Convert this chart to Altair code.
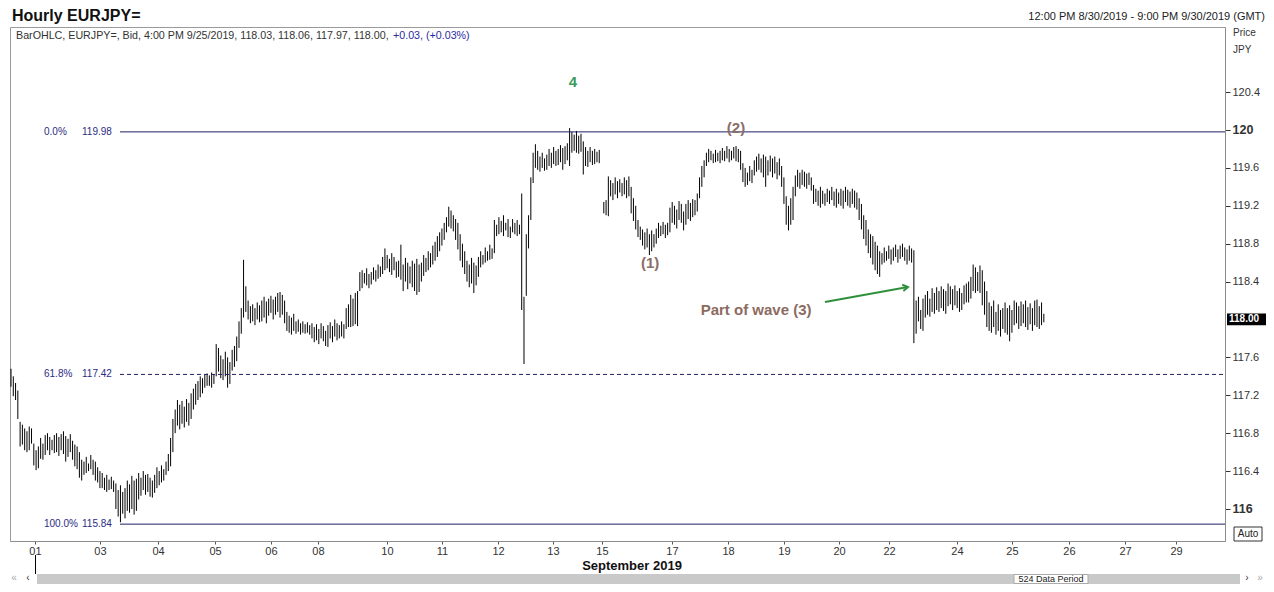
import json
import altair as alt
import pandas as pd

FONT = "Liberation Sans"

# ---------------- hourly OHLC bars (high / low per bar) ----------------
high_1 = [117.48, 117.40, 117.33, 117.25, 116.92, 116.89, 116.85, 116.82, 116.87, 116.85,
          116.69, 116.62, 116.66, 116.75, 116.69, 116.78, 116.80, 116.76, 116.73, 116.78,
          116.80, 116.76, 116.79, 116.82, 116.77, 116.74, 116.79, 116.72, 116.68, 116.66,
          116.60, 116.52, 116.50, 116.55, 116.48, 116.57, 116.52, 116.50, 116.44, 116.40,
          116.38, 116.33, 116.36, 116.31, 116.34, 116.30, 116.27, 116.20, 116.25, 116.18]
low_1 = [117.29, 117.19, 117.15, 116.95, 116.66, 116.68, 116.62, 116.60, 116.62, 116.69,
         116.46, 116.41, 116.43, 116.53, 116.52, 116.57, 116.62, 116.57, 116.62, 116.59,
         116.60, 116.56, 116.62, 116.58, 116.50, 116.55, 116.60, 116.52, 116.45, 116.42,
         116.33, 116.30, 116.36, 116.38, 116.40, 116.42, 116.36, 116.30, 116.28, 116.22,
         116.22, 116.20, 116.18, 116.20, 116.21, 116.18, 116.00, 115.92, 115.86, 115.95]

high_2 = [116.22, 116.30, 116.26, 116.35, 116.30, 116.32, 116.38, 116.33, 116.40, 116.36,
          116.37, 116.33, 116.30, 116.36, 116.44, 116.40, 116.46, 116.42, 116.50, 116.58,
          116.75, 116.95, 117.05, 117.15, 117.10, 117.14, 117.08, 117.16, 117.12, 117.22,
          117.27, 117.32, 117.35, 117.40, 117.38, 117.42, 117.43, 117.41, 117.44, 117.42,
          117.74, 117.70, 117.62, 117.58, 117.66, 117.60, 117.55, 117.68, 117.72, 117.82]
low_2 = [115.90, 115.98, 115.96, 116.00, 115.94, 115.98, 116.10, 116.14, 116.20, 116.15,
         116.18, 116.13, 116.12, 116.17, 116.22, 116.25, 116.28, 116.30, 116.36, 116.40,
         116.45, 116.60, 116.80, 116.88, 116.84, 116.90, 116.86, 116.92, 116.88, 116.95,
         117.05, 117.10, 117.15, 117.18, 117.22, 117.28, 117.30, 117.30, 117.28, 117.32,
         117.40, 117.45, 117.38, 117.36, 117.40, 117.28, 117.32, 117.46, 117.50, 117.56]

high_3 = [117.98, 118.12, 118.63, 118.35, 118.20, 118.14, 118.16, 118.12, 118.18, 118.15,
          118.20, 118.24, 118.19, 118.22, 118.25, 118.21, 118.24, 118.28, 118.29, 118.26,
          118.20, 118.08, 118.04, 118.02, 118.06, 117.98, 118.00, 117.96, 117.98, 117.95,
          117.97, 117.94, 117.96, 117.92, 117.95, 117.90, 117.96, 117.93, 117.88, 117.94,
          117.97, 117.93, 118.00, 117.96, 117.94, 117.98, 117.95, 118.12, 118.16, 118.26]
low_3 = [117.70, 117.85, 118.02, 118.08, 118.00, 117.96, 117.98, 117.94, 118.00, 117.97,
         117.98, 118.02, 117.96, 118.04, 118.07, 118.00, 118.05, 118.08, 118.02, 118.05,
         117.96, 117.88, 117.86, 117.84, 117.88, 117.85, 117.87, 117.84, 117.86, 117.85,
         117.86, 117.84, 117.80, 117.76, 117.78, 117.74, 117.80, 117.77, 117.72, 117.71,
         117.80, 117.76, 117.82, 117.78, 117.80, 117.82, 117.80, 117.90, 117.92, 117.92]

high_4 = [118.22, 118.28, 118.30, 118.50, 118.52, 118.49, 118.54, 118.48, 118.50, 118.55,
          118.52, 118.58, 118.56, 118.66, 118.75, 118.68, 118.64, 118.70, 118.66, 118.61,
          118.62, 118.79, 118.58, 118.65, 118.60, 118.56, 118.62, 118.59, 118.64, 118.58,
          118.60, 118.68, 118.65, 118.72, 118.70, 118.78, 118.82, 118.88, 118.92, 118.96,
          119.02, 119.08, 119.19, 119.15, 119.10, 119.06, 119.02, 118.90, 118.80, 118.72]
low_4 = [117.93, 117.95, 117.93, 118.30, 118.33, 118.38, 118.36, 118.33, 118.37, 118.42,
         118.40, 118.43, 118.45, 118.48, 118.52, 118.54, 118.50, 118.47, 118.52, 118.44,
         118.45, 118.42, 118.30, 118.40, 118.32, 118.38, 118.34, 118.30, 118.26, 118.29,
         118.40, 118.46, 118.50, 118.52, 118.55, 118.58, 118.62, 118.66, 118.72, 118.78,
         118.84, 118.92, 118.98, 118.96, 118.93, 118.84, 118.74, 118.62, 118.55, 118.48]

high_5 = [118.62, 118.58, 118.65, 118.60, 118.57, 118.66, 118.72, 118.68, 118.76, 118.72,
          118.79, 118.75, 119.05, 119.00, 119.08, 119.04, 119.10, 119.02, 119.06, 118.98,
          119.06, 119.02, 119.05, 119.00, 119.33, 118.24, 118.90, 119.10, 119.50, 119.76,
          119.85, 119.78, 119.72, 119.76, 119.70, 119.74, 119.80, 119.76, 119.82, 119.78,
          119.80, 119.84, 119.81, 119.83, 119.86, 120.02, 119.98, 119.95, 119.99, 119.94]
low_5 = [118.40, 118.34, 118.38, 118.28, 118.36, 118.45, 118.55, 118.58, 118.60, 118.62,
         118.63, 118.64, 118.70, 118.88, 118.90, 118.92, 118.88, 118.94, 118.87, 118.86,
         118.92, 118.90, 118.88, 118.90, 118.10, 117.53, 118.25, 118.75, 119.05, 119.44,
         119.60, 119.58, 119.56, 119.60, 119.57, 119.58, 119.62, 119.60, 119.64, 119.62,
         119.63, 119.66, 119.58, 119.64, 119.68, 119.62, 119.76, 119.78, 119.76, 119.75]

high_6 = [119.96, 119.88, 119.82, 119.78, 119.82, 119.78, 119.80, 119.77, 119.79, None,
          119.24, 119.26, 119.51, 119.47, 119.44, 119.50, 119.46, 119.48, 119.44, 119.50,
          119.47, 119.51, 119.40, 119.28, 119.20, 119.05, 118.98, 118.95, 118.92, 118.96,
          118.90, 118.94, 118.90, 118.96, 119.02, 118.99, 119.03, 119.00, 119.02, 119.18,
          119.24, 119.20, 119.16, 119.25, 119.22, 119.14, 119.22, 119.26, 119.23, 119.27]
low_6 = [119.77, 119.53, 119.62, 119.61, 119.66, 119.63, 119.64, 119.66, 119.65, None,
         119.12, 119.10, 119.09, 119.30, 119.26, 119.32, 119.28, 119.34, 119.30, 119.32,
         119.28, 119.30, 119.12, 119.04, 118.95, 118.87, 118.84, 118.78, 118.74, 118.76,
         118.68, 118.72, 118.76, 118.80, 118.86, 118.88, 118.90, 118.86, 118.89, 118.92,
         119.02, 119.00, 118.96, 119.05, 119.02, 118.94, 119.00, 119.06, 119.04, 119.08]

high_7 = [119.26, 119.33, 119.50, 119.62, 119.68, 119.76, 119.80, 119.78, 119.75, 119.79,
          119.76, 119.78, 119.81, 119.78, 119.83, 119.80, 119.78, 119.82, 119.83, 119.80,
          119.78, 119.65, 119.60, 119.55, 119.62, 119.58, 119.68, 119.72, 119.75, 119.70,
          119.74, 119.72, 119.68, 119.73, 119.70, 119.72, 119.66, 119.70, 119.62, 119.50,
          119.30, 119.20, 119.28, 119.40, 119.52, 119.58, 119.55, 119.58, 119.56, 119.54]
low_7 = [119.10, 119.14, 119.28, 119.40, 119.50, 119.62, 119.66, 119.68, 119.65, 119.66,
         119.67, 119.65, 119.68, 119.67, 119.70, 119.66, 119.68, 119.70, 119.67, 119.66,
         119.58, 119.45, 119.40, 119.42, 119.46, 119.44, 119.52, 119.56, 119.58, 119.55,
         119.50, 119.40, 119.52, 119.56, 119.50, 119.54, 119.48, 119.52, 119.40, 119.22,
         119.00, 118.94, 119.00, 119.05, 119.30, 119.40, 119.38, 119.42, 119.40, 119.38]

high_8 = [119.55, 119.50, 119.42, 119.38, 119.36, 119.40, 119.36, 119.33, 119.38, 119.36,
          119.40, 119.35, 119.38, 119.34, 119.38, 119.36, 119.40, 119.37, 119.35, 119.38,
          119.36, 119.34, 119.28, 119.22, 119.10, 119.05, 118.95, 118.90, 118.88, 118.82,
          118.78, 118.72, 118.70, 118.76, 118.72, 118.78, 118.74, 118.76, 118.79, 118.74,
          118.78, 118.80, 118.76, 118.74, 118.78, 118.75, 118.73, 118.20, 118.24, 118.10]
low_8 = [119.42, 119.36, 119.22, 119.24, 119.20, 119.18, 119.22, 119.20, 119.24, 119.22,
         119.26, 119.20, 119.18, 119.22, 119.20, 119.17, 119.24, 119.20, 119.18, 119.22,
         119.18, 119.16, 119.05, 118.95, 118.85, 118.78, 118.70, 118.65, 118.58, 118.52,
         118.48, 118.45, 118.58, 118.60, 118.62, 118.64, 118.58, 118.62, 118.66, 118.60,
         118.64, 118.66, 118.62, 118.58, 118.62, 118.60, 117.75, 117.85, 117.98, 117.90]

high_9 = [118.22, 118.26, 118.30, 118.22, 118.33, 118.28, 118.34, 118.30, 118.35, 118.32,
          118.30, 118.38, 118.35, 118.32, 118.36, 118.30, 118.33, 118.28, 118.36, 118.38,
          118.40, 118.45, 118.58, 118.55, 118.50, 118.57, 118.52, 118.40, 118.30, 118.18,
          118.14, 118.20, 118.08, 118.16, 118.10, 118.12, 118.18, 118.12, 118.15, 118.10,
          118.20, 118.18, 118.14, 118.19, 118.16, 118.20, 118.13, 118.17, 118.12, 118.20,
          118.21, 118.14, 118.18, 118.06]
low_9 = [117.88, 118.02, 118.05, 118.03, 118.08, 118.06, 118.10, 118.08, 118.12, 118.09,
         118.06, 118.14, 118.16, 118.10, 118.15, 118.12, 118.08, 118.10, 118.16, 118.18,
         118.18, 118.22, 118.30, 118.28, 118.30, 118.28, 118.15, 118.05, 117.92, 117.88,
         117.86, 117.92, 117.84, 117.88, 117.82, 117.90, 117.86, 117.84, 117.77, 117.86,
         117.94, 117.96, 117.90, 117.93, 117.96, 117.92, 117.89, 117.95, 117.88, 117.94,
         117.92, 117.90, 117.94, 117.97]

last_close = 118.00

# ---------------- axis ticks / labels ----------------
day_pos = [10.5, 39.0, 64.5, 89.5, 114.0, 134.6, 164.9, 189.0, 213.6, 237.7, 259.2,
           289.9, 314.5, 339.0, 363.2, 385.1, 414.9, 439.0, 464.0, 488.6, 511.0]
day_lab = ["01", "03", "04", "05", "06", "08", "10", "11", "12", "13", "15",
           "17", "18", "19", "20", "22", "24", "25", "26", "27", "29"]
price_ticks = [116.0, 116.4, 116.8, 117.2, 117.6, 118.4, 118.8, 119.2, 119.6, 120.0, 120.4]

# Fibonacci retracement levels
fib_levels = [119.98, 117.42, 115.84]
fib_pcts = ["0.0%", "61.8%", "100.0%"]
fib_dashed = [False, True, False]

# wave annotations
ann_text = ["4", "(2)", "(1)", "Part of wave (3)"]
ann_x = [246.5, 318.0, 280.3, 326.8]
ann_y = [120.51, 120.02, 118.60, 118.10]
ann_color = ["#3b9a5c", "#8a6e6a", "#8a6e6a", "#8c6b62"]
arrow_from = (357.0, 118.185)
arrow_to = (393.4, 118.343)

# ---------------- build ----------------
highs = high_1 + high_2 + high_3 + high_4 + high_5 + high_6 + high_7 + high_8 + high_9
lows = low_1 + low_2 + low_3 + low_4 + low_5 + low_6 + low_7 + low_8 + low_9
bars = pd.DataFrame({"i": list(range(len(highs))), "high": highs, "low": lows}).dropna()

W, H = 1215, 514
xscale = alt.Scale(domain=[-0.44, 532.46], nice=False, zero=False)
yscale = alt.Scale(domain=[115.662, 121.087], nice=False, zero=False)

bold_test = "datum.value == 120 || datum.value == 116"
yaxis = alt.Axis(
    orient="right", values=price_ticks, title=None, grid=False,
    labelExpr=f"({bold_test}) ? format(datum.value, 'd') : format(datum.value, '.1f')",
    tickSize=5, tickColor="#333333", domainColor="#8c8c8c",
    labelFont=FONT, labelColor="#333333", labelPadding=2,
    labelFontSize={"condition": {"test": bold_test, "value": 12.5}, "value": 11},
    labelFontWeight={"condition": {"test": bold_test, "value": "bold"}, "value": "normal"},
)
xaxis = alt.Axis(
    values=day_pos, title=None, grid=False,
    labelExpr=f"{json.dumps(day_lab)}[indexof({json.dumps(day_pos)}, datum.value)]",
    tickSize=3, tickColor="#555555", domainColor="#8c8c8c",
    labelFont=FONT, labelFontSize=11, labelColor="#333333", labelPadding=1,
    labelFlush=False, labelOverlap=False,
)


def X(field):
    return alt.X(field, scale=xscale, axis=xaxis, title=None)


def Y(field):
    return alt.Y(field, scale=yscale, axis=yaxis, title=None)


bar_layer = alt.Chart(bars).mark_rule(color="#000000", strokeWidth=1).encode(
    x=X("i:Q"), y=Y("low:Q"), y2="high:Q")

fib = pd.DataFrame({"level": fib_levels, "pct": fib_pcts, "dashed": fib_dashed})
NAVY = "#1f1f66"
fib_solid = alt.Chart(fib).transform_filter("!datum.dashed").mark_rule(color=NAVY, strokeWidth=1).encode(
    x=alt.value(110), x2=alt.value(W), y=Y("level:Q"))
fib_dash = alt.Chart(fib).transform_filter("datum.dashed").mark_rule(
    color=NAVY, strokeWidth=1, strokeDash=[4, 3]).encode(
    x=alt.value(110), x2=alt.value(W), y=Y("level:Q"))
fib_pct_txt = alt.Chart(fib).mark_text(align="left", baseline="middle", font=FONT, fontSize=10,
                                       color="#2b2b85").encode(
    x=alt.value(34), y=Y("level:Q"), text="pct:N")
fib_val_txt = alt.Chart(fib).mark_text(align="left", baseline="middle", font=FONT, fontSize=10,
                                       color="#2b2b85").encode(
    x=alt.value(72), y=Y("level:Q"), text=alt.Text("level:Q", format=".2f"))

ann = pd.DataFrame({"t": ann_text, "x": ann_x, "y": ann_y, "c": ann_color})
ann_layer = alt.Chart(ann).mark_text(font=FONT, fontSize=15, fontWeight="bold", baseline="middle").encode(
    x=X("x:Q"), y=Y("y:Q"), text="t:N", color=alt.Color("c:N", scale=None))

arr = pd.DataFrame({"x": [arrow_from[0]], "y": [arrow_from[1]], "x2": [arrow_to[0]], "y2": [arrow_to[1]]})
arrow_line = alt.Chart(arr).mark_rule(color="#2f8f3a", strokeWidth=2).encode(
    x=X("x:Q"), y=Y("y:Q"), x2="x2:Q", y2="y2:Q")
arrow_head = alt.Chart(arr).mark_point(shape="M -1 -0.6 L 0 0 L -1 0.6", filled=False, size=110,
                                       strokeWidth=2, color="#2f8f3a", angle=350, opacity=1).encode(
    x=X("x2:Q"), y=Y("y2:Q"))

last_df = pd.DataFrame({"p": [last_close], "lo": [last_close - 0.062], "hi": [last_close + 0.062]})
last_box = alt.Chart(last_df).mark_rect(color="#000000").encode(
    x=alt.value(W + 2), x2=alt.value(W + 41), y=Y("lo:Q"), y2="hi:Q")
last_txt = alt.Chart(last_df).mark_text(font=FONT, fontSize=10, fontWeight="bold", color="white",
                                        align="left", baseline="middle").encode(
    x=alt.value(W + 4), y=Y("p:Q"), text=alt.Text("p:Q", format=".2f"))


def ptext(s, x, y, **kw):
    return alt.Chart(pd.DataFrame({"t": [s]})).mark_text(font=FONT, **kw).encode(
        x=alt.value(x), y=alt.value(y), text="t:N")


def prect(x, x2, y, y2, **kw):
    return alt.Chart(pd.DataFrame({"a": [0]})).mark_rect(**kw).encode(
        x=alt.value(x), x2=alt.value(x2), y=alt.value(y), y2=alt.value(y2))


info_main = "BarOHLC, EURJPY=, Bid, 4:00 PM 9/25/2019, 118.03, 118.06, 117.97, 118.00,"
info_chg = "+0.03, (+0.03%)"

decor = [
    ptext("Hourly EURJPY=", 2, -11, fontSize=16, fontWeight="bold", align="left", baseline="middle", color="#111111"),
    ptext("12:00 PM 8/30/2019 - 9:00 PM 9/30/2019 (GMT)", 1255, -10, fontSize=11, align="right",
          baseline="middle", color="#222222"),
    ptext(info_main, 6, 9, fontSize=10.7, align="left", baseline="middle", color="#333333"),
    ptext(info_chg, 383, 9, fontSize=10.7, align="left", baseline="middle", color="#2a2aa0"),
    ptext("Price", 1223, 6, fontSize=10, align="left", baseline="middle", color="#333333"),
    ptext("JPY", 1223, 23, fontSize=10, align="left", baseline="middle", color="#333333"),
    prect(1224, 1252, 500, 514, fill="white", stroke="#333333", strokeWidth=1),
    ptext("Auto", 1238, 507, fontSize=10, align="center", baseline="middle", color="#222222"),
    ptext("September 2019", 622, 539, fontSize=13, fontWeight="bold", align="center",
          baseline="middle", color="#111111"),
    prect(25, 26, 528, 547, fill="#000000"),
    prect(27, 1230, 547, 557, fill="#c9c9c9"),
    prect(1004, 1078, 547.5, 556.5, fill="white", stroke="#aaaaaa", strokeWidth=1),
    ptext("524 Data Period", 1041, 552, fontSize=9, align="center", baseline="middle", color="#222222"),
    ptext("\u00ab", 4, 551, fontSize=10, align="center", baseline="middle", color="#aaaaaa"),
    ptext("\u2039", 18, 551, fontSize=10, align="center", baseline="middle", color="#333333"),
    ptext("\u203a", 1237, 551, fontSize=10, align="center", baseline="middle", color="#333333"),
    ptext("\u00bb", 1250, 551, fontSize=10, align="center", baseline="middle", color="#aaaaaa"),
]

chart = alt.layer(
    bar_layer, fib_solid, fib_dash, fib_pct_txt, fib_val_txt, ann_layer, arrow_line, arrow_head,
    last_box, last_txt, *decor
).properties(
    width=W, height=H,
    autosize=alt.AutoSizeParams(type="none"),
    padding={"left": 2, "top": 19, "right": 41, "bottom": 43},
    background="white",
).configure_view(stroke="#9a9a9a", strokeWidth=1)

chart.save("out.html", embed_options={"renderer": "svg", "actions": False})
